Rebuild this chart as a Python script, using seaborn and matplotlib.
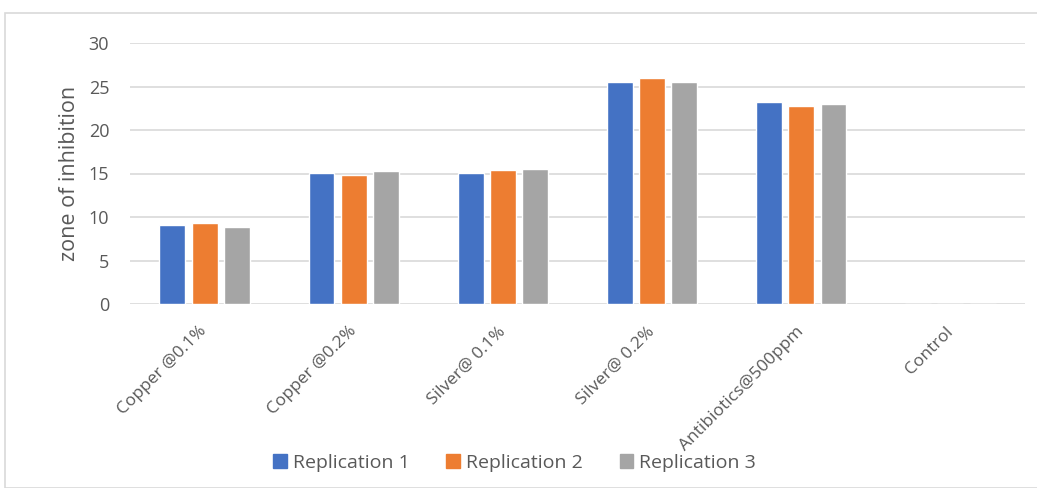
import numpy as np
import pandas as pd
import seaborn as sns
import matplotlib
matplotlib.use("Agg")
from matplotlib import pyplot as plt
from matplotlib.patches import Rectangle

treatments = ["Copper @0.1%", "Copper @0.2%", "Silver@ 0.1%", "Silver@ 0.2%",
              "Antibiotics@500ppm", "Control"]
rep1 = [9.1, 15.1, 15.1, 25.5, 23.2, 0]
rep2 = [9.3, 14.85, 15.4, 26.0, 22.8, 0]
rep3 = [8.9, 15.3, 15.5, 25.5, 23.0, 0]
series = ["Replication 1", "Replication 2", "Replication 3"]
colors = ["#4472C4", "#ED7D31", "#A5A5A5"]

df = pd.DataFrame({"treatment": treatments * 3,
                   "value": rep1 + rep2 + rep3,
                   "rep": np.repeat(series, len(treatments))})

sns.set_style("white")
plt.rcParams["font.family"] = ["Open Sans", "DejaVu Sans"]

fig = plt.figure(figsize=(10.37, 4.88), dpi=100)
ax = fig.add_axes([130 / 1037, 1 - 304 / 488, 895 / 1037, 261 / 488])

sns.barplot(df, x="treatment", y="value", hue="rep", palette=colors,
            width=0.65, gap=0.2, saturation=1, ax=ax, legend=False)

ax.set_ylim(0, 30)
ax.set_yticks(range(0, 31, 5))
ax.grid(axis="y", color="#d9d9d9", linewidth=1.2)
ax.set_axisbelow(True)
for s in ax.spines.values():
    s.set_visible(False)
ax.tick_params(axis="both", length=0, labelsize=13, colors="#595959")
ax.tick_params(axis="y", pad=15)
ax.tick_params(axis="x", pad=18)
ax.set_xlabel("")
ax.set_ylabel("zone of inhibition", fontsize=15.5, color="#595959", labelpad=6)
ax.set_xticks(range(len(treatments)))
ax.set_xticklabels(treatments, rotation=45, ha="right", va="center",
                   rotation_mode="anchor", fontsize=12.5)

handles = [Rectangle((0, 0), 1, 1, color=c) for c in colors]
fig.legend(handles, series, loc="center", bbox_to_anchor=(0.5 - 4 / 1037, 1 - 463 / 488),
           ncol=3, frameon=False, fontsize=14, handlelength=0.7, handleheight=0.7,
           handletextpad=0.3, columnspacing=1.9, labelcolor="#595959")

fig.patches.append(Rectangle((5 / 1037, 0), 1, 1 - 13 / 488, transform=fig.transFigure,
                             fill=False, edgecolor="#d9d9d9", linewidth=1.2))

fig.savefig("out.png", dpi=100)
